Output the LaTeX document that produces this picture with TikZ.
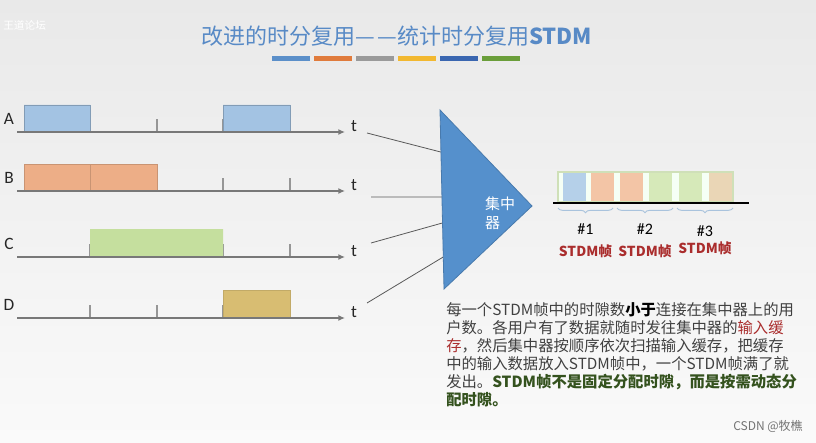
\documentclass[tikz,border=0pt]{standalone}
\usepackage{fontspec}
\setmainfont{Carlito}
\newfontfamily\cjk{Noto Sans CJK SC}
\usetikzlibrary{arrows.meta,calc,decorations.pathreplacing}
\definecolor{bgtop}{RGB}{233,233,233}
\definecolor{bgbot}{RGB}{250,250,250}
\definecolor{titleblue}{RGB}{88,138,198}
\definecolor{barA}{RGB}{91,143,201}
\definecolor{barB}{RGB}{224,123,60}
\definecolor{barC}{RGB}{154,154,154}
\definecolor{barD}{RGB}{242,184,48}
\definecolor{barE}{RGB}{58,102,176}
\definecolor{barF}{RGB}{106,158,58}
\definecolor{axisgray}{RGB}{120,120,120}
\definecolor{tickgray}{RGB}{150,150,150}
\definecolor{slotblue}{RGB}{163,195,227}
\definecolor{slotorange}{RGB}{237,174,135}
\definecolor{slotgreen}{RGB}{197,223,158}
\definecolor{slottan}{RGB}{216,189,114}
\definecolor{hubblue}{RGB}{85,144,204}
\definecolor{cellblue}{RGB}{181,208,233}
\definecolor{cellorange}{RGB}{243,197,166}
\definecolor{cellgreen}{RGB}{214,233,185}
\definecolor{celltan}{RGB}{234,214,182}
\definecolor{framegreen}{RGB}{207,224,184}
\definecolor{braceblue}{RGB}{169,195,221}
\definecolor{framered}{RGB}{170,45,45}
\definecolor{bodygray}{RGB}{64,64,64}
\definecolor{notegreen}{RGB}{52,82,30}
\tikzset{
  rowlabel/.style={font=\fontsize{13}{15}\selectfont, text=black!85},
  tlabel/.style={font=\fontsize{13}{15}\selectfont, text=black!85},
  axisline/.style={draw=axisgray, line width=1.1pt, -{Latex[length=5pt,width=4.5pt]}},
  tickline/.style={draw=tickgray, line width=0.8pt},
  feedline/.style={draw=black!65, line width=0.6pt},
  cell/.style={minimum width=17.25pt, minimum height=21pt, inner sep=0pt},
  framebrace/.style={draw=braceblue, line width=0.7pt, decorate,
    decoration={brace, mirror, amplitude=3.5pt}},
  framelabel/.style={font=\cjk\bfseries\fontsize{10.3}{12}\selectfont, text=framered}
}
\begin{document}
\begin{tikzpicture}[x=0.75pt,y=-0.75pt]
\shade[top color=bgtop, bottom color=bgbot] (0,0) rectangle (816,442);
\useasboundingbox (0,0) rectangle (816,442);
\node[font=\cjk\fontsize{8}{10}\selectfont, text=white, anchor=west, inner sep=0pt] (mark) at (3,25) {王道论坛};
\node[font=\cjk\fontsize{16.5}{18}\selectfont, text=titleblue] (title) at (397,36)
  {改进的时分复用—\kern1.5pt—统计时分复用\textbf{STDM}};
\foreach \c [count=\i] in {barA,barB,barC,barD,barE,barF}
  \fill[\c] ({230+42*\i},56) rectangle ++(38,5);
\foreach \n/\y in {A/132,B/191,C/257,D/318}{
  \node[rowlabel] (lab\n) at (9,\y-13) {\n};
  \coordinate (s\n) at (17,\y);
  \coordinate (e\n) at (345,\y);
  \foreach \x in {90,157,223,290}
    \draw[tickline] (\x,\y) -- ++(0,-13);
  \node[tlabel] (t\n) at (354,\y-6) {t};
}
\filldraw[fill=slotblue, draw=slotblue!80!black] (24,105) rectangle (90,132) (223,105) rectangle (290,132);
\filldraw[fill=slotorange, draw=slotorange!85!black] (24,164) rectangle (90,191) (90,164) rectangle (157,191);
\fill[slotgreen] (90,229) rectangle (157,257) (157,229) rectangle (223,257);
\filldraw[fill=slottan, draw=slottan!90!black] (223,290) rectangle (290,318);
\foreach \n in {A,B,C,D}
  \draw[axisline] (s\n) -- (e\n);
\coordinate (hubtop) at (440,110);
\coordinate (hubtip) at (532,206);
\coordinate (hubbot) at (444,289);
\coordinate (inA) at ($(hubtop)!0.235!(hubbot)$);
\coordinate (inB) at ($(hubtop)!0.486!(hubbot)$);
\coordinate (inC) at ($(hubtop)!0.631!(hubbot)$);
\coordinate (inD) at ($(hubtop)!0.821!(hubbot)$);
\coordinate (outA) at (367,133);
\coordinate (outB) at (371,197);
\coordinate (outC) at (371,243);
\coordinate (outD) at (367,303);
\foreach \n in {A,B,C,D}
  \draw[feedline] (out\n) -- (in\n);
\filldraw[fill=hubblue, draw=hubblue!85!black, line width=0.6pt] (hubtop) -- (hubtip) -- (hubbot) -- cycle;
\node[font=\cjk\fontsize{11.25}{14}\selectfont, text=white, align=left, inner sep=0pt] (hublabel) at (500,213.5) {集中\\器};
\filldraw[fill=white!96!green, draw=framegreen, line width=0.8pt] (558,172) rectangle (733,202);
\foreach \x/\c [count=\i] in {574.5/cellblue,602.5/cellorange,631.5/cellorange,660.5/cellgreen,690/cellgreen,720/celltan}
  \node[cell, fill=\c] (cell\i) at (\x,187) {};
\coordinate (fl) at (553,203);
\coordinate (fr) at (749,203);
\draw[line width=1.8pt] (fl) -- (fr);
\foreach \a/\b/\i/\ny/\fy in {558/613/1/229/251,617/673/2/229/251,677/733/3/231/248}{
  \draw[framebrace] (\a,208) -- (\b,208);
  \node[font=\fontsize{12}{14}\selectfont] (num\i) at ({(\a+\b)/2},\ny) {\#\i};
  \node[framelabel] (frame\i) at ({(\a+\b)/2},\fy) {STDM帧};
}
\node[anchor=north west, align=left, inner sep=0pt, text=bodygray,
  font=\cjk\fontsize{11.5}{13.5}\selectfont] (note) at (446,302)
  {每一个STDM帧中的时隙数{\color{black}\bfseries 小于}连接在集中器上的用\\
   户数。各用户有了数据就随时发往集中器的{\color{framered}输入缓}\\
   {\color{framered}存}，然后集中器按顺序依次扫描输入缓存，把缓存\\
   中的输入数据放入STDM帧中，一个STDM帧满了就\\
   发出。{\color{notegreen}\bfseries STDM帧不是固定分配时隙，而是按需动态分}\\
   {\color{notegreen}\bfseries 配时隙。}};
\node[font=\cjk\fontsize{9}{10}\selectfont, text=black!55] (csdn) at (768,426) {CSDN @牧樵};
\end{tikzpicture}
\end{document}
